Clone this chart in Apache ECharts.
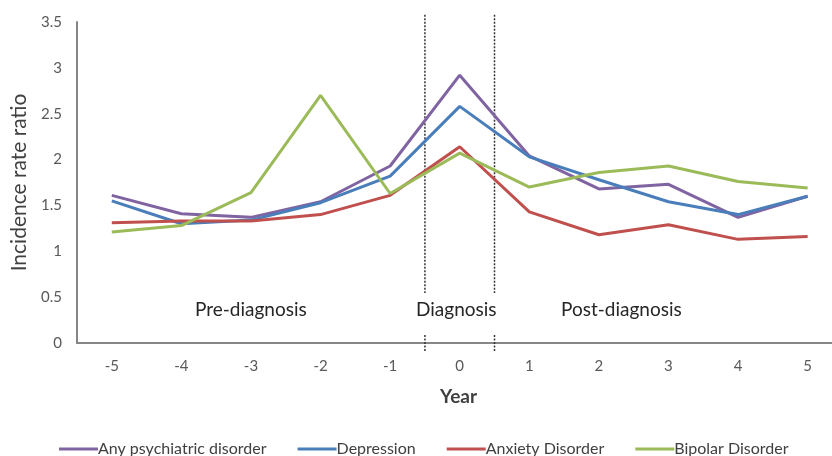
<!DOCTYPE html>
<html>
<head>
<meta charset="utf-8">
<script src="https://cdn.jsdelivr.net/npm/echarts@6/dist/echarts.min.js"></script>
<style>
html,body{margin:0;padding:0;background:#fff;}
#chart{width:832px;height:456px;}
</style>
</head>
<body>
<div id="chart"></div>
<script>
const years = [-5, -4, -3, -2, -1, 0, 1, 2, 3, 4, 5];
const anyPsychiatric = [1.61, 1.41, 1.37, 1.54, 1.93, 2.92, 2.04, 1.68, 1.73, 1.37, 1.60];
const depression = [1.55, 1.30, 1.34, 1.53, 1.82, 2.58, 2.03, 1.78, 1.54, 1.40, 1.60];
const anxiety = [1.31, 1.33, 1.33, 1.40, 1.61, 2.14, 1.43, 1.18, 1.29, 1.13, 1.16];
const bipolar = [1.21, 1.28, 1.64, 2.70, 1.63, 2.07, 1.70, 1.86, 1.93, 1.76, 1.69];
const seriesNames = ['Any psychiatric disorder', 'Depression', 'Anxiety Disorder', 'Bipolar Disorder'];
const periodLabels = ['Pre-diagnosis', 'Diagnosis', 'Post-diagnosis'];
const yTicks = [0, 0.5, 1, 1.5, 2, 2.5, 3, 3.5];

const FONT = 'Lato, Open Sans, sans-serif';
const colors = ['#8064A2', '#4A7EBB', '#C0504D', '#9BBB59'];
const allVals = [anyPsychiatric, depression, anxiety, bipolar];

const chart = echarts.init(document.getElementById('chart'));

const lineSeries = seriesNames.map((name, k) => ({
  name: name,
  type: 'line',
  data: years.map((y, i) => [y, allVals[k][i]]),
  symbol: 'none',
  lineStyle: { width: 3, color: colors[k] },
  itemStyle: { color: colors[k] },
  z: 3 + k
}));

function divider(x, y0, y1) {
  return {
    type: 'line',
    data: [[x, y0], [x, y1]],
    symbol: 'none',
    silent: true,
    clip: false,
    lineStyle: { width: 1.5, type: [2, 1.5], color: '#333' },
    z: 2
  };
}

chart.setOption({
  animation: false,
  backgroundColor: '#fff',
  textStyle: { fontFamily: FONT },
  grid: { left: 77, right: 0, top: 22, bottom: 113 },
  xAxis: {
    type: 'value',
    min: -5.5,
    max: 5.35,
    splitLine: { show: false },
    axisTick: { show: false },
    axisLine: { lineStyle: { color: '#868686', width: 2 } },
    axisLabel: {
      customValues: years,
      color: '#595959',
      fontSize: 15,
      margin: 16,
      fontFamily: FONT
    }
  },
  yAxis: {
    type: 'value',
    min: 0,
    max: 3.5,
    interval: 0.5,
    splitLine: { show: false },
    axisTick: { show: false },
    axisLine: { show: true, onZero: false, lineStyle: { color: '#868686', width: 2 } },
    axisLabel: { color: '#595959', fontSize: 15, margin: 15, fontFamily: FONT },
    name: 'Incidence rate ratio',
    nameLocation: 'middle',
    nameGap: 42,
    nameTextStyle: { fontSize: 21, color: '#404040', fontFamily: FONT }
  },
  legend: {
    data: seriesNames,
    left: 54,
    top: 436,
    icon: 'rect',
    itemWidth: 39,
    itemHeight: 3,
    itemGap: 31,
    textStyle: { fontSize: 16, color: '#404040', fontFamily: FONT, padding: [0, 0, 0, -5] }
  },
  graphic: [
    { type: 'text', left: 195, top: 300, style: { text: periodLabels[0], font: '19px ' + FONT, fill: '#262626' } },
    { type: 'text', left: 416, top: 300, style: { text: periodLabels[1], font: '19px ' + FONT, fill: '#262626' } },
    { type: 'text', left: 561, top: 300, style: { text: periodLabels[2], font: '19px ' + FONT, fill: '#262626' } },
    { type: 'text', left: 440, top: 387, style: { text: 'Year', font: 'bold 19px ' + FONT, fill: '#404040' } }
  ],
  series: lineSeries.concat([
    divider(-0.5, 3.58, 0.545),
    divider(-0.5, 0.087, -0.098),
    divider(0.5, 3.58, 0.545),
    divider(0.5, 0.087, -0.098)
  ])
});
</script>
</body>
</html>
